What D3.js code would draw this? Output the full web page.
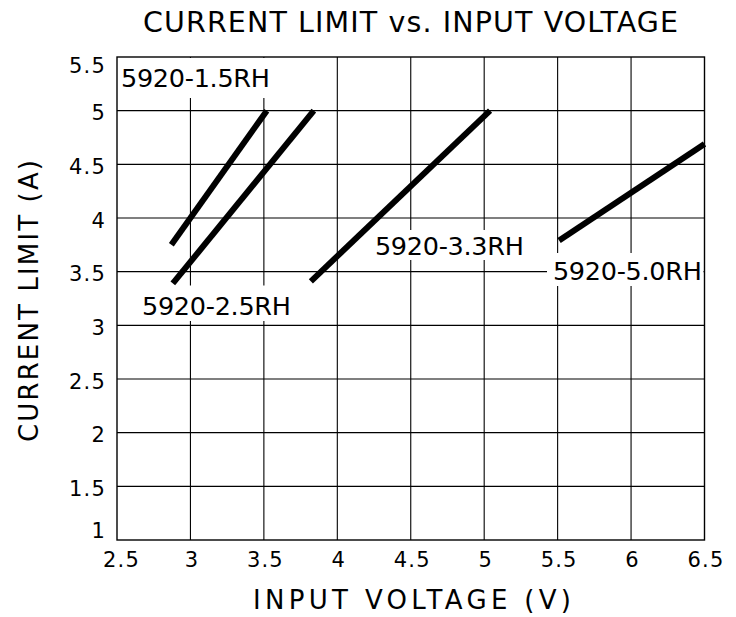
<!DOCTYPE html>
<html>
<head>
<meta charset="utf-8">
<script src="https://cdn.jsdelivr.net/npm/d3@7"></script>
<style>
  html, body { margin: 0; padding: 0; background: #fff; }
  svg { display: block; }
  text { font-family: "DejaVu Sans", sans-serif; fill: #000; }
</style>
</head>
<body>
<svg id="chart" width="736" height="617"></svg>
<script>
// ---- data ----
const xTicks = [2.5, 3, 3.5, 4, 4.5, 5, 5.5, 6, 6.5];
const yTicks = [1, 1.5, 2, 2.5, 3, 3.5, 4, 4.5, 5, 5.5];
const seriesNames = ["5920-1.5RH", "5920-2.5RH", "5920-3.3RH", "5920-5.0RH"];
const seriesVoltage = [[2.87, 3.52], [2.88, 3.84], [3.82, 5.04], [5.51, 6.5]];
const seriesCurrent = [[3.75, 5.0], [3.39, 5.0], [3.41, 5.0], [3.79, 4.69]];
const titleText = "CURRENT  LIMIT  vs.  INPUT  VOLTAGE";
const xTitle = "INPUT  VOLTAGE  (V)";
const yTitle = "CURRENT  LIMIT  (A)";

// ---- layout ----
const W = 736, H = 617;
const plot = { left: 117, right: 704.5, top: 57, bottom: 540 };
const labelAnchors = [[2.527, 5.22], [2.67, 3.096], [4.256, 3.655], [5.468, 3.422]];
const labelWidth = 149;

const svg = d3.select("#chart");
const x = d3.scaleLinear().domain([2.5, 6.5]).range([plot.left, plot.right]);
const y = d3.scaleLinear().domain([1, 5.5]).range([plot.bottom, plot.top]);

// gridlines
const grid = svg.append("g");
grid.selectAll("line.v").data(xTicks.slice(1, -1)).join("line")
  .attr("x1", d => x(d)).attr("x2", d => x(d))
  .attr("y1", plot.top).attr("y2", plot.bottom)
  .attr("stroke", "#000").attr("stroke-width", 1.1);
grid.selectAll("line.h").data(yTicks.slice(1, -1)).join("line")
  .attr("x1", plot.left).attr("x2", plot.right)
  .attr("y1", d => y(d)).attr("y2", d => y(d))
  .attr("stroke", "#000").attr("stroke-width", 1.1);

// white boxes behind the series labels
const boxes = [
  { x0: 119, x1: 273, y0: 58, y1: 98 },
  { x0: 138, x1: 294, y0: 285.5, y1: 321 },
  { x0: 370, x1: 528, y0: 230, y1: 260 },
  { x0: 547, x1: 703.5, y0: 253, y1: 286 }
];
svg.append("g").selectAll("rect").data(boxes).join("rect")
  .attr("x", d => d.x0).attr("y", d => d.y0)
  .attr("width", d => d.x1 - d.x0).attr("height", d => d.y1 - d.y0)
  .attr("fill", "#fff");

// frame
svg.append("rect")
  .attr("x", plot.left).attr("y", plot.top)
  .attr("width", plot.right - plot.left).attr("height", plot.bottom - plot.top)
  .attr("fill", "none").attr("stroke", "#000").attr("stroke-width", 1.4);

// series lines
const line = d3.line().x(d => x(d[0])).y(d => y(d[1]));
const series = seriesNames.map((n, i) => ({
  name: n,
  pts: seriesVoltage[i].map((v, j) => [v, seriesCurrent[i][j]])
}));
svg.append("g").selectAll("path").data(series).join("path")
  .attr("d", d => line(d.pts))
  .attr("fill", "none").attr("stroke", "#000")
  .attr("stroke-width", 6).attr("stroke-linecap", "butt");

// series labels
svg.append("g").selectAll("text").data(series).join("text")
  .attr("x", (d, i) => x(labelAnchors[i][0]))
  .attr("y", (d, i) => y(labelAnchors[i][1]))
  .attr("font-size", 25.5)
  .attr("textLength", labelWidth).attr("lengthAdjust", "spacing")
  .text(d => d.name);

// x tick labels
svg.append("g").selectAll("text").data(xTicks).join("text")
  .attr("x", (d, i) => x(d) + (i === 0 ? 4.5 : 1.5))
  .attr("y", 567)
  .attr("text-anchor", "middle")
  .attr("font-size", 21)
  .attr("letter-spacing", 1.2)
  .text(d => d);

// y tick labels
svg.append("g").selectAll("text").data(yTicks).join("text")
  .attr("x", 106)
  .attr("y", (d, i) => y(d) + (i === yTicks.length - 1 ? 15.5 : (i === 0 ? -2.5 : 9.5)))
  .attr("text-anchor", "end")
  .attr("font-size", 21)
  .attr("letter-spacing", 1.2)
  .text(d => d);

// title
svg.append("text")
  .attr("x", 143).attr("y", 32)
  .attr("font-size", 28.5)
  .attr("textLength", 535).attr("lengthAdjust", "spacing")
  .text(titleText);

// x axis title
svg.append("text")
  .attr("x", 253).attr("y", 609)
  .attr("font-size", 26)
  .attr("textLength", 318).attr("lengthAdjust", "spacing")
  .text(xTitle);

// y axis title
svg.append("text")
  .attr("transform", "translate(38,442) rotate(-90)")
  .attr("x", 0).attr("y", 0)
  .attr("font-size", 26)
  .attr("textLength", 282).attr("lengthAdjust", "spacing")
  .text(yTitle);
</script>
</body>
</html>
